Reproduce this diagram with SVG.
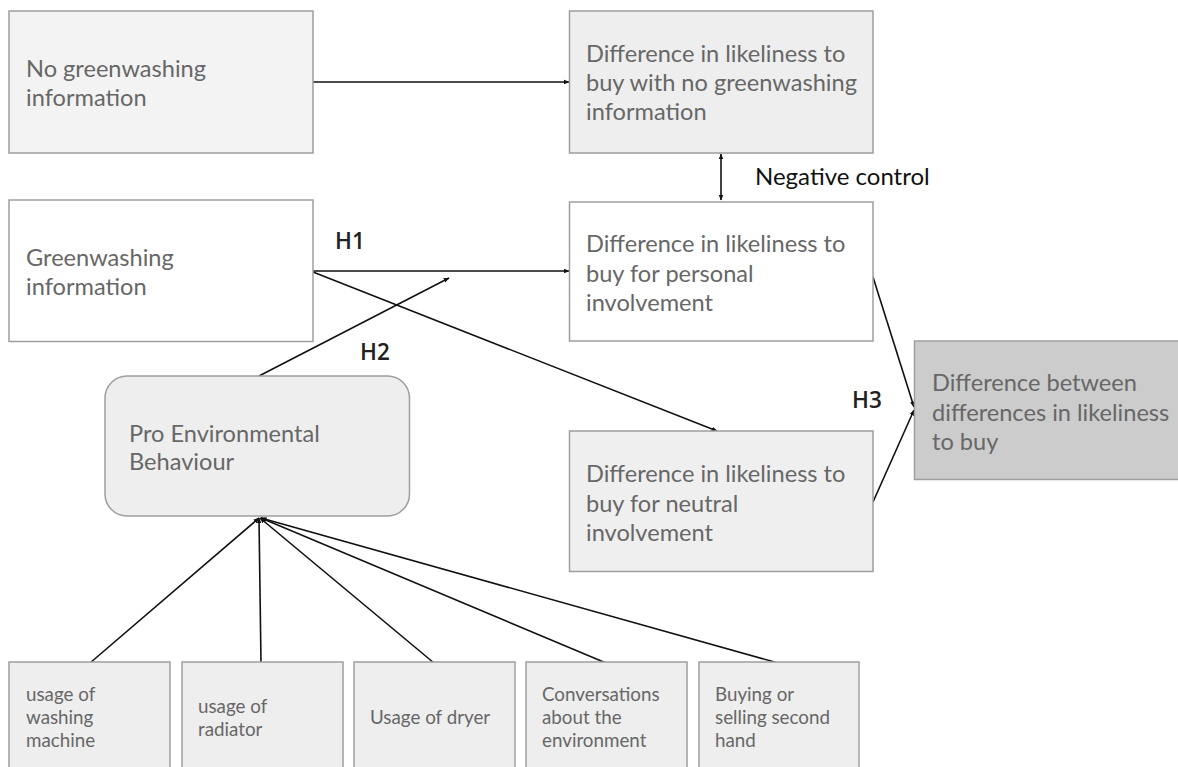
<svg xmlns="http://www.w3.org/2000/svg" width="1178" height="767" viewBox="0 0 1178 767">
<defs>
<style>
.box{stroke:#9e9e9e;stroke-width:1.5}
.t{font-family:Lato,"Liberation Sans",sans-serif;font-size:23.6px;fill:#676767}
.ts{font-family:Lato,"Liberation Sans",sans-serif;font-size:18.8px;fill:#676767}
.lbl{font-family:"Open Sans","Liberation Sans",sans-serif;font-size:22.5px;font-weight:600;fill:#222}
.nc{font-family:Lato,"Liberation Sans",sans-serif;font-size:24px;fill:#111}
.c{stroke:#111;stroke-width:1.6;fill:none;marker-end:url(#ah)}
</style>
<marker id="ah" viewBox="0 0 10 10" refX="9" refY="5" markerWidth="6" markerHeight="6" orient="auto" markerUnits="userSpaceOnUse">
<path d="M0,1 L10,5 L0,9 z" fill="#111"/>
</marker>
<marker id="as" viewBox="0 0 10 10" refX="1" refY="5" markerWidth="6" markerHeight="6" orient="auto" markerUnits="userSpaceOnUse">
<path d="M10,1 L0,5 L10,9 z" fill="#111"/>
</marker>
</defs>
<rect width="1178" height="767" fill="#fff"/>
<g id="connectors">
<line class="c" x1="313" y1="82" x2="569" y2="82"/>
<line class="c" x1="721" y1="154" x2="721" y2="200" marker-start="url(#as)"/>
<line class="c" x1="313" y1="271" x2="569" y2="271"/>
<line class="c" x1="313" y1="272" x2="717" y2="431"/>
<line class="c" x1="259" y1="376" x2="449" y2="278"/>
<line class="c" x1="873" y1="277" x2="914" y2="407"/>
<line class="c" x1="873" y1="502" x2="914" y2="410"/>
<line class="c" x1="90" y1="663" x2="259" y2="518"/>
<line class="c" x1="261" y1="663" x2="259" y2="518"/>
<line class="c" x1="434" y1="663" x2="260" y2="518"/>
<line class="c" x1="606" y1="663" x2="261" y2="518"/>
<line class="c" x1="778" y1="663" x2="261" y2="518"/>
<text class="lbl" x="335" y="249">H1</text>
<text class="lbl" x="360" y="360">H2</text>
<text class="lbl" x="852" y="408">H3</text>
<text class="nc" x="755" y="185">Negative control</text>
</g>
<g id="no-gw">
<rect class="box" x="9" y="11" width="304" height="142" fill="#f3f3f3"/>
<text class="t" x="26"><tspan x="26" y="77">No greenwashing</tspan><tspan x="26" y="106">information</tspan></text>
</g>
<g id="diff-no-gw">
<rect class="box" x="569.5" y="11" width="303.5" height="142" fill="#eeeeee"/>
<text class="t"><tspan x="586" y="62">Difference in likeliness to</tspan><tspan x="586" y="91">buy with no greenwashing</tspan><tspan x="586" y="120">information</tspan></text>
</g>
<g id="gw">
<rect class="box" x="9" y="200" width="304" height="141.5" fill="#ffffff"/>
<text class="t"><tspan x="26" y="266">Greenwashing</tspan><tspan x="26" y="295">information</tspan></text>
</g>
<g id="diff-personal">
<rect class="box" x="569.5" y="202" width="303.5" height="139" fill="#ffffff"/>
<text class="t"><tspan x="586" y="252">Difference in likeliness to</tspan><tspan x="586" y="281.5">buy for personal</tspan><tspan x="586" y="310.5">involvement</tspan></text>
</g>
<g id="diff-neutral">
<rect class="box" x="569.5" y="431" width="303.5" height="140.5" fill="#efefef"/>
<text class="t"><tspan x="586" y="482">Difference in likeliness to</tspan><tspan x="586" y="511.5">buy for neutral</tspan><tspan x="586" y="540.5">involvement</tspan></text>
</g>
<g id="diff-between">
<rect class="box" x="914.5" y="341" width="270" height="138.5" fill="#cccccc"/>
<text class="t"><tspan x="932" y="391">Difference between</tspan><tspan x="932" y="420.5">differences in likeliness</tspan><tspan x="932" y="450">to buy</tspan></text>
</g>
<g id="pro-env">
<rect class="box" x="105" y="376" width="304.5" height="140" rx="22" ry="22" fill="#eeeeee"/>
<text class="t"><tspan x="129" y="441.5">Pro Environmental</tspan><tspan x="129" y="470">Behaviour</tspan></text>
</g>
<g id="washing">
<rect class="box" x="9" y="662" width="161" height="115" fill="#eeeeee"/>
<text class="ts"><tspan x="26" y="701">usage of</tspan><tspan x="26" y="724">washing</tspan><tspan x="26" y="747">machine</tspan></text>
</g>
<g id="radiator">
<rect class="box" x="182" y="662" width="161" height="115" fill="#eeeeee"/>
<text class="ts"><tspan x="198" y="712.5">usage of</tspan><tspan x="198" y="736">radiator</tspan></text>
</g>
<g id="dryer">
<rect class="box" x="354" y="662" width="161" height="115" fill="#eeeeee"/>
<text class="ts" x="370" y="724">Usage of dryer</text>
</g>
<g id="conversations">
<rect class="box" x="526" y="662" width="161" height="115" fill="#eeeeee"/>
<text class="ts"><tspan x="542" y="701">Conversations</tspan><tspan x="542" y="724">about the</tspan><tspan x="542" y="747">environment</tspan></text>
</g>
<g id="second-hand">
<rect class="box" x="699" y="662" width="160" height="115" fill="#eeeeee"/>
<text class="ts"><tspan x="715" y="701">Buying or</tspan><tspan x="715" y="724">selling second</tspan><tspan x="715" y="747">hand</tspan></text>
</g>
</svg>
